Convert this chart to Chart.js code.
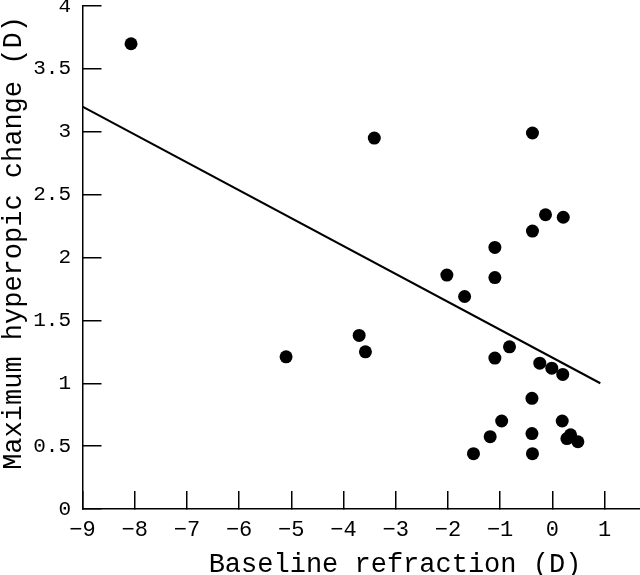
<!DOCTYPE html>
<html>
<head>
<meta charset="utf-8">
<script src="https://cdn.jsdelivr.net/npm/chart.js@4.4.1/dist/chart.umd.min.js"></script>
<style>
  html, body { margin: 0; padding: 0; background: #fff; }
  canvas { display: block; }
</style>
</head>
<body>
<canvas id="chart" width="640" height="575"></canvas>
<script>
// Baseline refraction (D) and maximum hyperopic change (D), one entry per eye
const refraction = [
  -8.07, -3.41, -0.38,
  -0.13, 0.21, -0.38, -1.10, -1.10, -2.02, -1.68,
  -3.70, -3.58, -5.10,
  -0.82, -1.10, -0.24, -0.01, 0.20, -0.39,
  -0.97, 0.19, -1.19, -0.39, 0.28, 0.35, 0.49, -1.51, -0.38
]
const hyperopicChange = [
  3.70, 2.95, 2.99,
  2.34, 2.32, 2.21, 2.08, 1.84, 1.86, 1.69,
  1.38, 1.25, 1.21,
  1.29, 1.20, 1.16, 1.12, 1.07, 0.88,
  0.70, 0.70, 0.575, 0.60, 0.56, 0.59, 0.535, 0.44, 0.44
]

// Regression line end points
const fitX = [-9, 0.92]
const fitY = [3.2, 1.0]

// Tick values
const xTicks = [-9, -8, -7, -6, -5, -4, -3, -2, -1, 0, 1]
const yTicks = [0, 0.5, 1, 1.5, 2, 2.5, 3, 3.5, 4]

const xTitle = "Baseline refraction (D)"
const yTitle = "Maximum hyperopic change (D)"

const FONT = "'Liberation Mono', 'DejaVu Sans Mono', monospace"

// Axis titles are placed by hand, the reference does not center them on the axes
const axisTitles = {
  id: "axisTitles",
  afterDraw(chart) {
    const ctx = chart.ctx
    ctx.save()
    ctx.fillStyle = "#000"
    ctx.font = "27px " + FONT
    ctx.textAlign = "center"
    ctx.textBaseline = "alphabetic"
    ctx.fillText(xTitle, 395, 572)
    ctx.translate(14, 243)
    ctx.rotate(-Math.PI / 2)
    ctx.textBaseline = "middle"
    ctx.fillText(yTitle, 0, 0)
    ctx.restore()
  }
}

const points = refraction.map((x, i) => ({ x: x, y: hyperopicChange[i] }))
const fitLine = fitX.map((x, i) => ({ x: x, y: fitY[i] }))

new Chart(document.getElementById("chart"), {
  type: "scatter",
  data: {
    datasets: [
      {
        label: "Eyes",
        data: points,
        backgroundColor: "#000",
        borderWidth: 0,
        pointRadius: 6.5
      },
      {
        label: "Fit",
        data: fitLine,
        showLine: true,
        borderColor: "#000",
        borderWidth: 2,
        pointRadius: 0
      }
    ]
  },
  options: {
    responsive: false,
    devicePixelRatio: 1,
    animation: false,
    layout: { autoPadding: false, padding: { top: 6, right: 0, left: 0, bottom: 0 } },
    plugins: {
      legend: { display: false },
      tooltip: { enabled: false }
    },
    scales: {
      x: {
        type: "linear",
        min: -9,
        max: 1.68,
        afterBuildTicks: scale => { scale.ticks = xTicks.map(v => ({ value: v })) },
        afterFit: scale => {
          scale.height = 66
          scale.paddingLeft = 0
          scale.paddingRight = 0
        },
        border: { color: "#000", width: 1.5 },
        grid: { drawOnChartArea: false, color: "#000", lineWidth: 1.5, tickLength: -18 },
        ticks: {
          color: "#000",
          padding: 26,
          maxRotation: 0,
          font: { family: FONT, size: 22 },
          callback: v => String(v).replace("-", "\u2212")
        }
      },
      y: {
        type: "linear",
        min: 0,
        max: 4,
        afterBuildTicks: scale => { scale.ticks = yTicks.map(v => ({ value: v })) },
        afterFit: scale => {
          scale.width = 82.5
          scale.paddingTop = 0
          scale.paddingBottom = 0
        },
        border: { color: "#000", width: 1.5 },
        grid: { drawOnChartArea: false, color: "#000", lineWidth: 1.5, tickLength: -19 },
        ticks: {
          color: "#000",
          padding: 30.5,
          font: { family: FONT, size: 21 },
          callback: v => String(v)
        }
      }
    }
  },
  plugins: [axisTitles]
})
</script>
</body>
</html>
